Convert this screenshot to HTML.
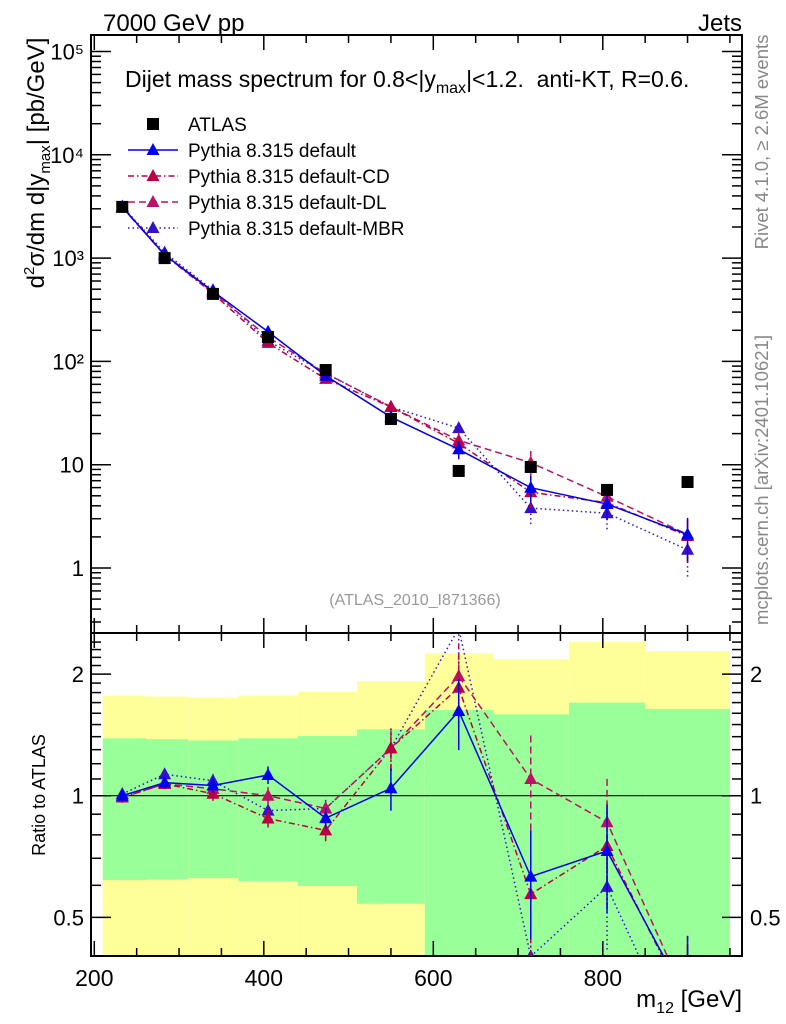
<!DOCTYPE html>
<html><head><meta charset="utf-8">
<style>
html,body{margin:0;padding:0;background:#fff;overflow:hidden;width:786px;height:1024px;}
svg{display:block;font-family:"Liberation Sans","DejaVu Sans",sans-serif;}
</style></head>
<body>
<svg id="chart" width="786" height="1024" viewBox="0 0 786 1024">
<g id="bands"></g>
<g id="grid"></g>
<g id="series"></g>
<g id="labels">
<text x="103" y="31" font-size="24">7000 GeV pp</text>
<text x="742" y="31" font-size="24" text-anchor="end">Jets</text>
<text x="125" y="87" font-size="23">Dijet mass spectrum for 0.8&lt;|y<tspan font-size="16" dy="6">max</tspan><tspan dy="-6">|&lt;1.2.&#160; anti-KT, R=0.6.</tspan></text>
<text x="415" y="605" font-size="16" fill="#999" text-anchor="middle">(ATLAS_2010_I871366)</text>
<text transform="translate(44,163) rotate(-90)" font-size="24" text-anchor="middle">d<tspan font-size="15" dy="-10">2</tspan><tspan dy="10">σ/dm d|y</tspan><tspan font-size="15" dy="6">max</tspan><tspan dy="-6">| [pb/GeV]</tspan></text>
<text transform="translate(45,795) rotate(-90)" font-size="18" text-anchor="middle">Ratio to ATLAS</text>
<text x="742" y="1007" font-size="24" text-anchor="end">m<tspan font-size="16" dy="6">12</tspan><tspan dy="-6"> [GeV]</tspan></text>
<text transform="translate(768,142) rotate(-90)" font-size="18.5" fill="#888" text-anchor="middle">Rivet 4.1.0, ≥ 2.6M events</text>
<text transform="translate(768,480) rotate(-90)" font-size="18.5" fill="#888" text-anchor="middle">mcplots.cern.ch [arXiv:2401.10621]</text>
</g>
<g id="legend"></g>
</svg>
<script>
const binCenters=[233,283,340,405,473,550,630,715,805,900];
const binEdges=[210,261,311,370,440,510,590,671,760,850,950];
const atlas=[3130,1000,450,172,82.5,27.7,8.7,9.5,5.7,6.8];
const pDefault=[3130,1077,477,193.5,72.6,28.9,14.1,5.99,4.16,2.11];
const pCD=[3099,1070,455,151,67.7,36.3,16.1,5.42,4.28,2.04];
const pDL=[3099,1070,468,172,76.7,36.3,17.2,10.45,4.9,2.11];
const pMBR=[3161,1130,490,158,76.7,36.3,22.6,3.8,3.39,1.5];
const relErr=[0.03,0.03,0.04,0.05,0.06,0.12,0.2,0.3,0.3,0.45];
const yellowHi=[1.77,1.76,1.75,1.77,1.81,1.92,2.25,2.18,2.4,2.28];
const greenHi=[1.387,1.38,1.37,1.387,1.405,1.46,1.63,1.59,1.7,1.64];
const greenLo=[0.618,0.62,0.625,0.615,0.598,0.54,0.3,0.3,0.3,0.3];
const yellowLo=[0.3,0.3,0.3,0.3,0.3,0.3,0.3,0.415,0.3,0.3];
const xTicks=[200,400,600,800];
const topTicks=[1,10,100,1000,10000,100000];
const topTickLabels=["1","10","10²","10³","10⁴","10⁵"];
const ratioTicks=[0.5,1,2];
const ratioTickLabels=["0.5","1","2"];

const NS="http://www.w3.org/2000/svg";
const L=91,R=742,T1=35,B1=633,T2=633,B2=956;
const X=v=>94.3+(v-200)*0.8475;
const Y1=v=>568-Math.log10(v)*103.3;
const Y2=r=>Math.min(B2,Math.max(T2,795.7-Math.log10(r)*404));
function mk(tag,attrs,parent){const e=document.createElementNS(NS,tag);for(const k in attrs)e.setAttribute(k,attrs[k]);parent.appendChild(e);return e;}
const gB=document.getElementById('bands'),gG=document.getElementById('grid'),gS=document.getElementById('series'),gL=document.getElementById('legend');

for(let i=0;i<binCenters.length;i++){
  const x0=X(binEdges[i]),x1=X(binEdges[i+1]);
  let r=mk('rect',{x:x0,y:Y2(yellowHi[i]),width:x1-x0,height:Y2(yellowLo[i])-Y2(yellowHi[i]),fill:'#ffff99'},gB);
  
  
  r=mk('rect',{x:x0,y:Y2(greenHi[i]),width:x1-x0,height:Y2(greenLo[i])-Y2(greenHi[i]),fill:'#99ff99'},gB);
  
  
}
let f=mk('rect',{x:L,y:T1,width:R-L,height:B1-T1,fill:'none',stroke:'#000','stroke-width':2},gG);


f=mk('rect',{x:L,y:T2,width:R-L,height:B2-T2,fill:'none',stroke:'#000','stroke-width':2},gG);


let one=mk('line',{x1:L,x2:R,y1:Y2(1),y2:Y2(1),stroke:'#000','stroke-width':1.2},gG);


for(let v=200;v<=950;v+=50){
  const maj=v%200===0,len=maj?15:8,x=X(v);
  [[T1,1],[B1,-1],[T2,1],[B2,-1]].forEach(([y,s])=>{mk('line',{x1:x,x2:x,y1:y,y2:y+s*len,stroke:'#000','stroke-width':1.5},gG);});
}
xTicks.forEach(v=>{const t=mk('text',{x:X(v),y:986,'font-size':23,'text-anchor':'middle'},gG);t.textContent=v;
  
  });
for(let d=-1;d<=5;d++){for(let m=1;m<10;m++){const v=m*Math.pow(10,d);const y=Y1(v);if(y<T1||y>B1)continue;const len=m===1?20:10;
  mk('line',{x1:L,x2:L+len,y1:y,y2:y,stroke:'#000','stroke-width':1.5},gG);
  mk('line',{x1:R,x2:R-len,y1:y,y2:y,stroke:'#000','stroke-width':1.5},gG);}}
topTicks.forEach((v,i)=>{const t=mk('text',{x:84,y:Y1(v)+8,'font-size':22,'text-anchor':'end'},gG);t.textContent=topTickLabels[i];
  
  });
for(let r=0.4;r<=2.5;r+=0.1){const y=Y2(r);if(y<=T2||y>=B2)continue;const maj=ratioTicks.some(v=>Math.abs(v-r)<1e-6);const len=maj?20:10;
  mk('line',{x1:L,x2:L+len,y1:y,y2:y,stroke:'#000','stroke-width':1.5},gG);
  mk('line',{x1:R,x2:R-len,y1:y,y2:y,stroke:'#000','stroke-width':1.5},gG);}
ratioTicks.forEach((v,i)=>{[[84,'end'],[750,'start']].forEach(([x,a])=>{const t=mk('text',{x:x,y:Y2(v)+8,'font-size':22,'text-anchor':a},gG);t.textContent=ratioTickLabels[i];
  
  });});

const defs=mk('defs',{},document.getElementById('chart'));
const cp=mk('clipPath',{id:'cr'},defs);mk('rect',{x:L,y:T2,width:R-L,height:B2-T2},cp);
const cp1=mk('clipPath',{id:'ct'},defs);mk('rect',{x:L,y:T1,width:R-L,height:B1-T1},cp1);

function tri(x,y,col,parent){return mk('polygon',{points:`${x},${y-7} ${x-6.5},${y+5} ${x+6.5},${y+5}`,fill:col},parent);}
const models=[
 {vals:pMBR,col:'#3311cc',dash:'1.5,3',name:'mbr'},
 {vals:pDL,col:'#bb1166',dash:'7,4',name:'dl'},
 {vals:pCD,col:'#bb0044',dash:'6,3,1.5,3',name:'cd'},
 {vals:pDefault,col:'#0000ee',dash:'none',name:'default'}];
models.forEach(m=>{
  const gt=mk('g',{'clip-path':'url(#ct)'},gS);
  
  
  const gr=mk('g',{'clip-path':'url(#cr)'},gS);
  
  
  const pts1=binCenters.map((c,i)=>X(c)+','+Y1(m.vals[i])).join(' ');
  const pts2=binCenters.map((c,i)=>X(c)+','+(795.7-Math.log10(m.vals[i]/atlas[i])*404)).join(' ');
  mk('polyline',{points:pts1,fill:'none',stroke:m.col,'stroke-width':1.5,'stroke-dasharray':m.dash},gt);
  mk('polyline',{points:pts2,fill:'none',stroke:m.col,'stroke-width':1.5,'stroke-dasharray':m.dash},gr);
  binCenters.forEach((c,i)=>{
    const x=X(c),v=m.vals[i],e=relErr[i],r=v/atlas[i];
    mk('line',{x1:x,x2:x,y1:Y1(v*(1-e)),y2:Y1(v*(1+e)),stroke:m.col,'stroke-width':1.5,'stroke-dasharray':m.dash},gt);
    const ry=q=>795.7-Math.log10(q)*404;
    mk('line',{x1:x,x2:x,y1:ry(r*(1-e)),y2:ry(r*(1+e)),stroke:m.col,'stroke-width':1.5,'stroke-dasharray':m.dash},gr);
    let p=tri(x,Y1(v),m.col,gt);
    
    
    p=tri(x,ry(r),m.col,gr);
    
    
  });
});
atlas.forEach((v,i)=>{const s=mk('rect',{x:X(binCenters[i])-6,y:Y1(v)-6,width:12,height:12,fill:'#000'},gS);
  
  });

const leg=[
 {label:'ATLAS',col:'#000',dash:null},
 {label:'Pythia 8.315 default',col:'#0000ee',dash:'none'},
 {label:'Pythia 8.315 default-CD',col:'#bb0044',dash:'6,3,1.5,3'},
 {label:'Pythia 8.315 default-DL',col:'#bb1166',dash:'7,4'},
 {label:'Pythia 8.315 default-MBR',col:'#3311cc',dash:'1.5,3'}];
leg.forEach((l,i)=>{
  const y=124+i*26;
  const g=mk('g',{},gL);
  
  
  if(l.dash===null){mk('rect',{x:147,y:y-6,width:12,height:12,fill:'#000'},g);}
  else{mk('line',{x1:128,x2:178,y1:y,y2:y,stroke:l.col,'stroke-width':1.5,'stroke-dasharray':l.dash},g);tri(153,y,l.col,g);}
  const t=mk('text',{x:188,y:y+7,'font-size':19},g);t.textContent=l.label;
});
</script>
</body></html>
